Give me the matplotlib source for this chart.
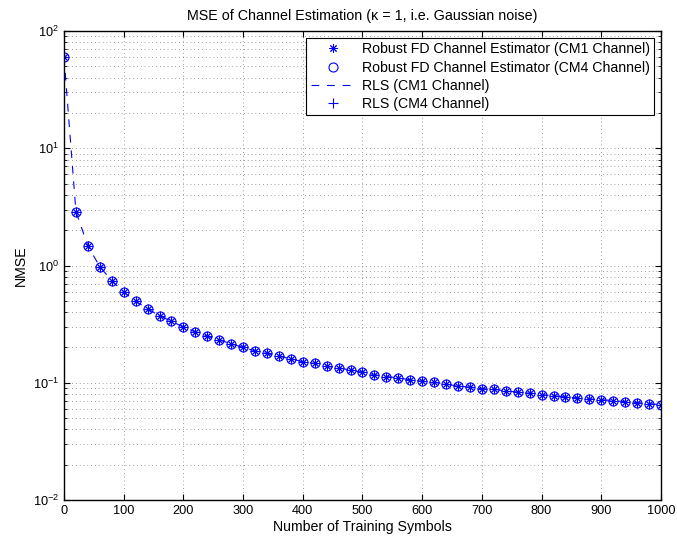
import numpy as np
import matplotlib
matplotlib.use("Agg")
import matplotlib.pyplot as plt
from matplotlib.ticker import LogLocator, NullFormatter, MultipleLocator

plt.rcParams['font.family'] = ['Liberation Sans', 'DejaVu Sans']
plt.rcParams['mathtext.fontset'] = 'custom'
plt.rcParams['mathtext.rm'] = 'Liberation Sans'
plt.rcParams['mathtext.it'] = 'Liberation Sans:italic'

symbols = list(range(0, 1001, 20))
nmse_robust_cm1 = [59.7, 2.88, 1.47, 0.977, 0.742, 0.594, 0.495, 0.428, 0.373, 0.334,
                   0.299, 0.271, 0.249, 0.232, 0.215, 0.200, 0.187, 0.178, 0.168, 0.160,
                   0.151, 0.146, 0.138, 0.134, 0.128, 0.123, 0.117, 0.113, 0.110, 0.106,
                   0.103, 0.101, 0.097, 0.094, 0.0914, 0.089, 0.088, 0.085, 0.0834, 0.0812,
                   0.079, 0.0776, 0.0756, 0.0742, 0.0727, 0.0717, 0.0704, 0.069, 0.0677, 0.0663,
                   0.065]
nmse_robust_cm4 = list(nmse_robust_cm1)
nmse_rls_cm1 = list(nmse_robust_cm1)
nmse_rls_cm4 = list(nmse_robust_cm1)

labels = ["Robust FD Channel Estimator (CM1 Channel)",
          "Robust FD Channel Estimator (CM4 Channel)",
          "RLS (CM1 Channel)",
          "RLS (CM4 Channel)"]

fig = plt.figure(figsize=(6.77, 5.40), dpi=100)
ax = fig.add_axes([64/677, 40/540, (661-64)/677, (500-31)/540])

blue = (0, 0, 1)
ax.semilogy(symbols, nmse_robust_cm1, linestyle='none', marker=(8, 2, 0), color=blue,
            markersize=6, markeredgewidth=0.7, label=labels[0])
ax.semilogy(symbols, nmse_robust_cm4, linestyle='none', marker='o', color=blue,
            markerfacecolor='none', markersize=6.5, markeredgewidth=0.8, label=labels[1])
ax.semilogy(symbols, nmse_rls_cm1, linestyle=(0, (7, 7)), color=blue, linewidth=0.8,
            label=labels[2])
ax.semilogy(symbols, nmse_rls_cm4, linestyle='none', marker='+', color=blue,
            markersize=6.5, markeredgewidth=0.8, label=labels[3])

ax.set_xlim(0, 1000)
ax.set_ylim(1e-2, 1e2)
ax.xaxis.set_major_locator(MultipleLocator(100))
ax.yaxis.set_major_locator(LogLocator(base=10, numticks=10))
ax.yaxis.set_minor_locator(LogLocator(base=10, subs=np.arange(2, 10), numticks=20))
ax.yaxis.set_minor_formatter(NullFormatter())

gridkw = dict(linestyle=(0, (1, 4)), color='0.4', linewidth=0.55)
ax.grid(True, which='major', axis='both', **gridkw)
ax.grid(True, which='minor', axis='y', **gridkw)

ax.tick_params(which='both', direction='in', top=True, right=True, labelsize=9.2)
ax.tick_params(which='major', length=4, width=0.8)
ax.tick_params(which='minor', length=2.5, width=0.6)
for s in ax.spines.values():
    s.set_linewidth(1.0)

ax.set_xlabel("Number of Training Symbols", fontsize=10.2, labelpad=2)
ax.set_ylabel("NMSE", fontsize=10.2, labelpad=4)
ax.set_title("MSE of Channel Estimation (κ = 1, i.e. Gaussian noise)", fontsize=10.3, pad=8)

leg = ax.legend(loc='upper right', fontsize=10.2, handlelength=3.2, handletextpad=0.4,
                labelspacing=0.3, borderpad=0.3, fancybox=False, framealpha=1,
                edgecolor='black', borderaxespad=0.5)
leg.get_frame().set_linewidth(0.8)

fig.savefig("out.png", dpi=100)
